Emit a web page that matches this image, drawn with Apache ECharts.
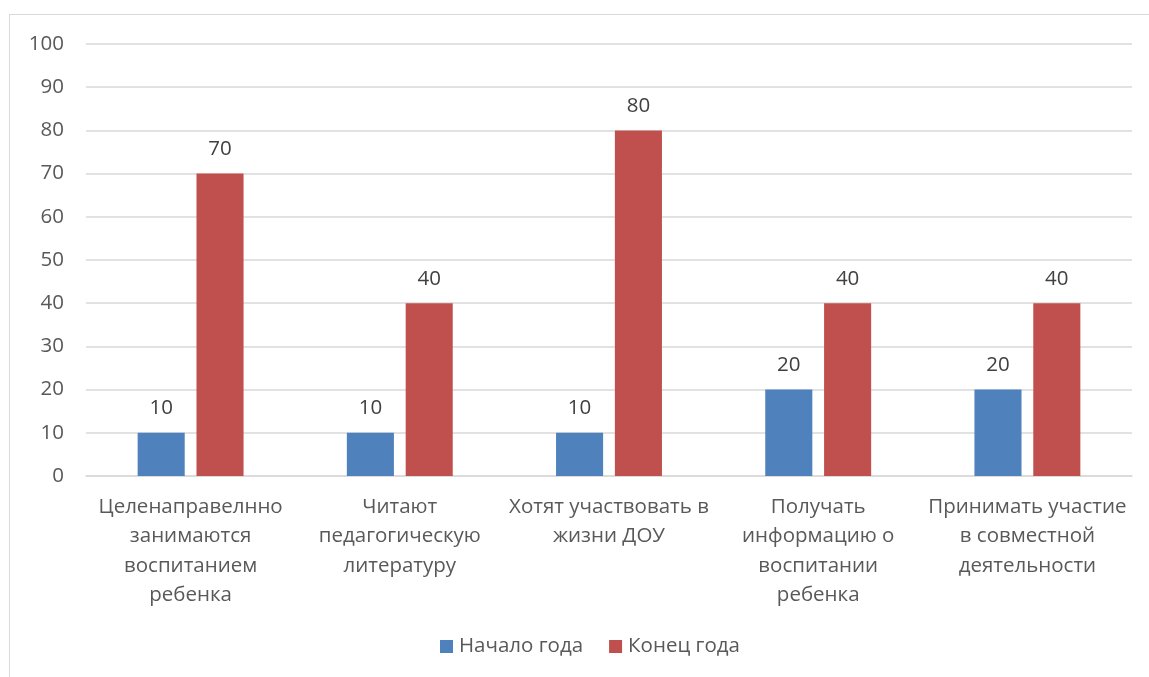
<!DOCTYPE html>
<html><head><meta charset="utf-8">
<script src="https://cdn.jsdelivr.net/npm/echarts@6/dist/echarts.min.js"></script>
<style>
html,body{margin:0;padding:0;background:#fff;overflow:hidden}
#frame{position:absolute;left:9px;top:14px;width:1160px;height:700px;border:1.5px solid #d9d9d9;box-sizing:border-box}
#c{position:absolute;left:0;top:0;width:1149px;height:677px}
</style></head>
<body><div id="frame"></div><div id="c"></div>
<script>
const categories = ["Целенаправелнно\nзанимаются\nвоспитанием\nребенка","Читают\nпедагогическую\nлитературу","Хотят участвовать в\nжизни ДОУ","Получать\nинформацию о\nвоспитании\nребенка","Принимать участие\nв совместной\nдеятельности"];
const seriesNames = ["Начало года","Конец года"];
const startValues = [10,10,10,20,20];
const endValues = [70,40,80,40,40];
const chart = echarts.init(document.getElementById('c'));
const font = "'Open Sans', 'Liberation Sans', sans-serif";
const fs = 20.5;
const lbl = {show:true,position:'top',distance:14,color:'#404040',fontSize:fs,fontFamily:font};
chart.setOption({
  animation:false,
  grid:{left:86,right:17,top:44,bottom:201},
  legend:{bottom:15,left:435,itemWidth:13,itemHeight:13,itemGap:26,icon:'rect',
    textStyle:{color:'#595959',fontSize:fs,fontFamily:font,padding:[0,0,0,1]},data:seriesNames},
  xAxis:{type:'category',data:categories,axisTick:{show:false},
    axisLine:{lineStyle:{color:'#d9d9d9',width:1.5}},
    axisLabel:{color:'#595959',fontSize:fs,fontFamily:font,lineHeight:29.5,margin:16,interval:0}},
  yAxis:{type:'value',min:0,max:100,interval:10,
    axisLine:{show:false},axisTick:{show:false},
    axisLabel:{color:'#595959',fontSize:fs,fontFamily:font,margin:22},
    splitLine:{lineStyle:{color:'#d9d9d9',width:1.5}}},
  series:[
    {name:seriesNames[0],type:'bar',data:startValues,barWidth:'22.5%',barGap:'25%',itemStyle:{color:'#4F81BD'},label:lbl},
    {name:seriesNames[1],type:'bar',data:endValues,barWidth:'22.5%',itemStyle:{color:'#C0504D'},label:lbl}
  ]
});
</script></body></html>
